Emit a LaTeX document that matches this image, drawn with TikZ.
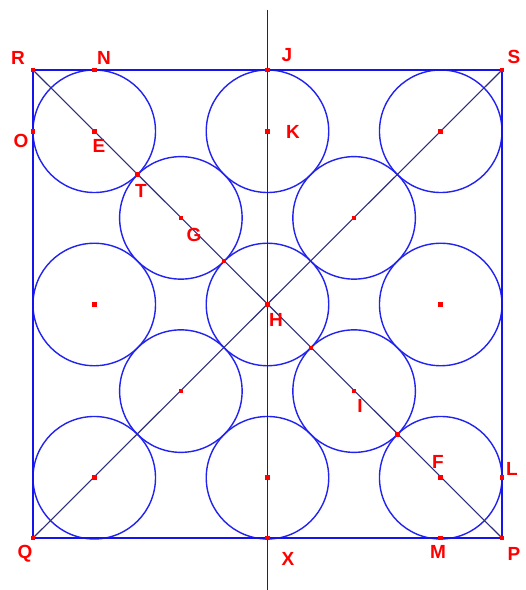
\documentclass[tikz,border=0pt]{standalone}
\usepackage{fontspec}
\setmainfont{Liberation Sans}
\usetikzlibrary{calc}
\definecolor{cblue}{RGB}{35,35,240}
\definecolor{sblue}{RGB}{20,20,235}
\definecolor{navy}{RGB}{45,45,125}
\definecolor{vnavy}{RGB}{25,25,150}
\definecolor{lred}{RGB}{255,0,0}
\begin{document}
\begin{tikzpicture}[x=1pt,y=-1pt,
  circ/.style={draw=cblue,line width=1.4pt},
  sq/.style={draw=sblue,line width=1.6pt},
  diag/.style={draw=navy,line width=1.1pt},
  vert/.style={draw=vnavy,line width=1.8pt},
  dot/.style={rectangle,fill=lred,inner sep=0pt,minimum size=4.5pt},
  lab/.style={text=lred,font=\bfseries\fontsize{19}{19}\selectfont,inner sep=0pt}]
\useasboundingbox (0,0) rectangle (526,590);
\fill[white] (0,0) rectangle (526,590);
\pgfmathsetmacro{\rr}{61.25}
\pgfmathsetmacro{\ss}{86.62}
% corners and points
\coordinate (R) at (33,70);
\coordinate (S) at (502,70);
\coordinate (Q) at (33,538);
\coordinate (P) at (502,538);
\coordinate (Vtop) at (267.5,10);
\coordinate (Vbot) at (267.5,590);
% circle centres
\foreach \i/\j/\nm in {0/0/c00,2/0/c20,4/0/c40,1/1/c11,3/1/c31,0/2/c02,2/2/c22,4/2/c42,1/3/c13,3/3/c33,0/4/c04,2/4/c24,4/4/c44}{
  \coordinate (\nm) at ({33+\rr+\i*\ss},{70+\rr+\j*\ss});
}
\foreach \nm in {c00,c20,c40,c11,c31,c02,c22,c42,c13,c33,c04,c24,c44}{
  \draw[circ] (\nm) circle[radius=\rr];
}
% square
\draw[sq] (R) -- (S) -- (P) -- (Q) -- cycle;
% diagonals
\draw[diag] (R) -- (P);
\draw[diag] (Q) -- (S);
% vertical line
\draw[vert] (Vtop) -- (Vbot);
% special points
\coordinate (N) at (c00 |- R);
\coordinate (O) at (R |- c00);
\coordinate (J) at (c20 |- R);
\coordinate (X) at (c24 |- Q);
\coordinate (M) at (c44 |- Q);
\coordinate (L) at (P |- c44);
\coordinate (T) at ($(c00)!0.5!(c11)$);
\coordinate (T2) at ($(c11)!0.5!(c22)$);
\coordinate (T3) at ($(c22)!0.5!(c33)$);
\coordinate (T4) at ($(c33)!0.5!(c44)$);
\foreach \p in {R,S,Q,P,N,O,J,X,M,L,T,T2,T3,T4,c00,c20,c40,c11,c31,c02,c22,c42,c13,c33,c04,c24,c44}{
  \node[dot] at (\p) {};
}
% labels
\node[lab] (lR) at (18,58) {R};
\node[lab] (lN) at (104,58) {N};
\node[lab] (lJ) at (287,55) {J};
\node[lab] (lS) at (514,57) {S};
\node[lab] (lO) at (21,141) {O};
\node[lab] (lE) at (99,146) {E};
\node[lab] (lK) at (293,132) {K};
\node[lab] (lT) at (141,191) {T};
\node[lab] (lG) at (194,235) {G};
\node[lab] (lH) at (276,320) {H};
\node[lab] (lI) at (360,406) {I};
\node[lab] (lF) at (438,462) {F};
\node[lab] (lL) at (512,469) {L};
\node[lab] (lQ) at (25,554) {Q};
\node[lab] (lX) at (288,559) {X};
\node[lab] (lM) at (438,552) {M};
\node[lab] (lP) at (514,554) {P};
\end{tikzpicture}
\end{document}
